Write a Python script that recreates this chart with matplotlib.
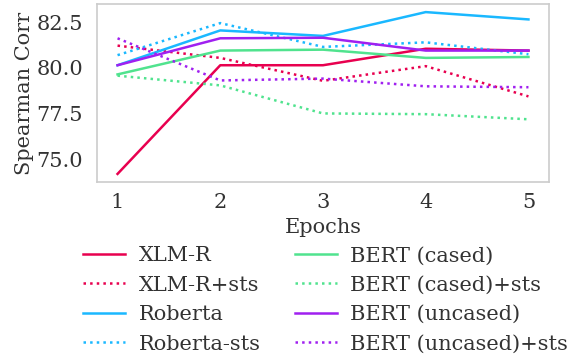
import matplotlib
matplotlib.use("Agg")
import matplotlib.pyplot as plt

epochs = [1, 2, 3, 4, 5]
xlmr = [74.22, 80.15, 80.15, 81.05, 80.95]
xlmr_sts = [81.22, 80.55, 79.3, 80.1, 78.45]
roberta = [80.15, 82.05, 81.75, 83.05, 82.65]
roberta_sts = [80.7, 82.45, 81.15, 81.4, 80.75]
bert_cased = [79.65, 80.95, 81.0, 80.55, 80.6]
bert_cased_sts = [79.58, 79.05, 77.52, 77.48, 77.2]
bert_uncased = [80.15, 81.62, 81.65, 80.95, 80.95]
bert_uncased_sts = [81.62, 79.32, 79.42, 79.0, 78.95]

labels = ["XLM-R", "XLM-R+sts", "Roberta", "Roberta-sts",
          "BERT (cased)", "BERT (cased)+sts", "BERT (uncased)", "BERT (uncased)+sts"]
series = [xlmr, xlmr_sts, roberta, roberta_sts,
          bert_cased, bert_cased_sts, bert_uncased, bert_uncased_sts]
colors = ["#E8004F", "#E8004F", "#1AB8FF", "#1AB8FF",
          "#50E38E", "#50E38E", "#A020F0", "#A020F0"]
styles = ["-", ":", "-", ":", "-", ":", "-", ":"]

FS = 15
plt.rcParams["font.family"] = ["DejaVu Serif"]
fig = plt.figure(figsize=(5.69, 3.54), dpi=100)
ax = fig.add_axes([97/569, 1-182/354, (549-97)/569, (182-4)/354])

for s, lab, c, ls in zip(series, labels, colors, styles):
    ax.plot(epochs, s, color=c, linestyle=ls, linewidth=1.8, label=lab)

ax.set_xticks(epochs)
ax.set_yticks([75.0, 77.5, 80.0, 82.5])
ax.tick_params(labelsize=FS, length=0, colors="#333333")
ax.tick_params(axis="y", pad=10)
ax.tick_params(axis="x", pad=8)
ax.set_xlabel("Epochs", fontsize=FS, color="#333333", labelpad=4)
ax.set_ylabel("Spearman Corr", fontsize=FS, color="#333333", labelpad=2)
for sp in ax.spines.values():
    sp.set_color("#cccccc")
    sp.set_linewidth(1.2)

leg = fig.legend(loc="upper left", bbox_to_anchor=(75/569, 1-238/354), ncol=2,
                 frameon=False, fontsize=FS, handlelength=2.0, handletextpad=0.65,
                 columnspacing=1.65, labelspacing=0.5, borderaxespad=0)
for t in leg.get_texts():
    t.set_color("#333333")

fig.savefig("out.png", dpi=100)
